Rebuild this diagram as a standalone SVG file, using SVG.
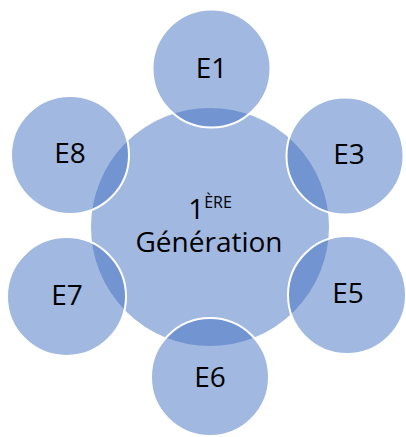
<svg xmlns="http://www.w3.org/2000/svg" width="406" height="437" viewBox="0 0 406 437">
<style>
.c{fill:#4472C4;fill-opacity:0.5;stroke:#FFFFFF;stroke-width:2}
.t{font-family:"Open Sans","Noto Sans",sans-serif;font-size:28px;fill:#000000;text-anchor:middle}
.s{font-size:16px}
</style>
<rect width="406" height="437" fill="#FFFFFF"/>
<g id="connectors"/>
<g id="center">
<circle class="c" cx="210" cy="227" r="120"/>
<text class="t" x="210" y="219">1<tspan class="s" dy="-11">ÈRE</tspan></text>
<text class="t" x="209" y="252">Génération</text>
</g>
<g id="E1"><circle class="c" cx="211.5" cy="68.5" r="59"/><text class="t" x="211.5" y="78">E1</text></g>
<g id="E3"><circle class="c" cx="345" cy="156" r="58.5"/><text class="t" x="349" y="164">E3</text></g>
<g id="E5"><circle class="c" cx="347" cy="295" r="59"/><text class="t" x="348" y="303">E5</text></g>
<g id="E6"><circle class="c" cx="210" cy="377" r="59"/><text class="t" x="210" y="387">E6</text></g>
<g id="E7"><circle class="c" cx="66.5" cy="296.5" r="59.5"/><text class="t" x="67" y="305">E7</text></g>
<g id="E8"><circle class="c" cx="70" cy="155" r="59"/><text class="t" x="70" y="163">E8</text></g>
</svg>
